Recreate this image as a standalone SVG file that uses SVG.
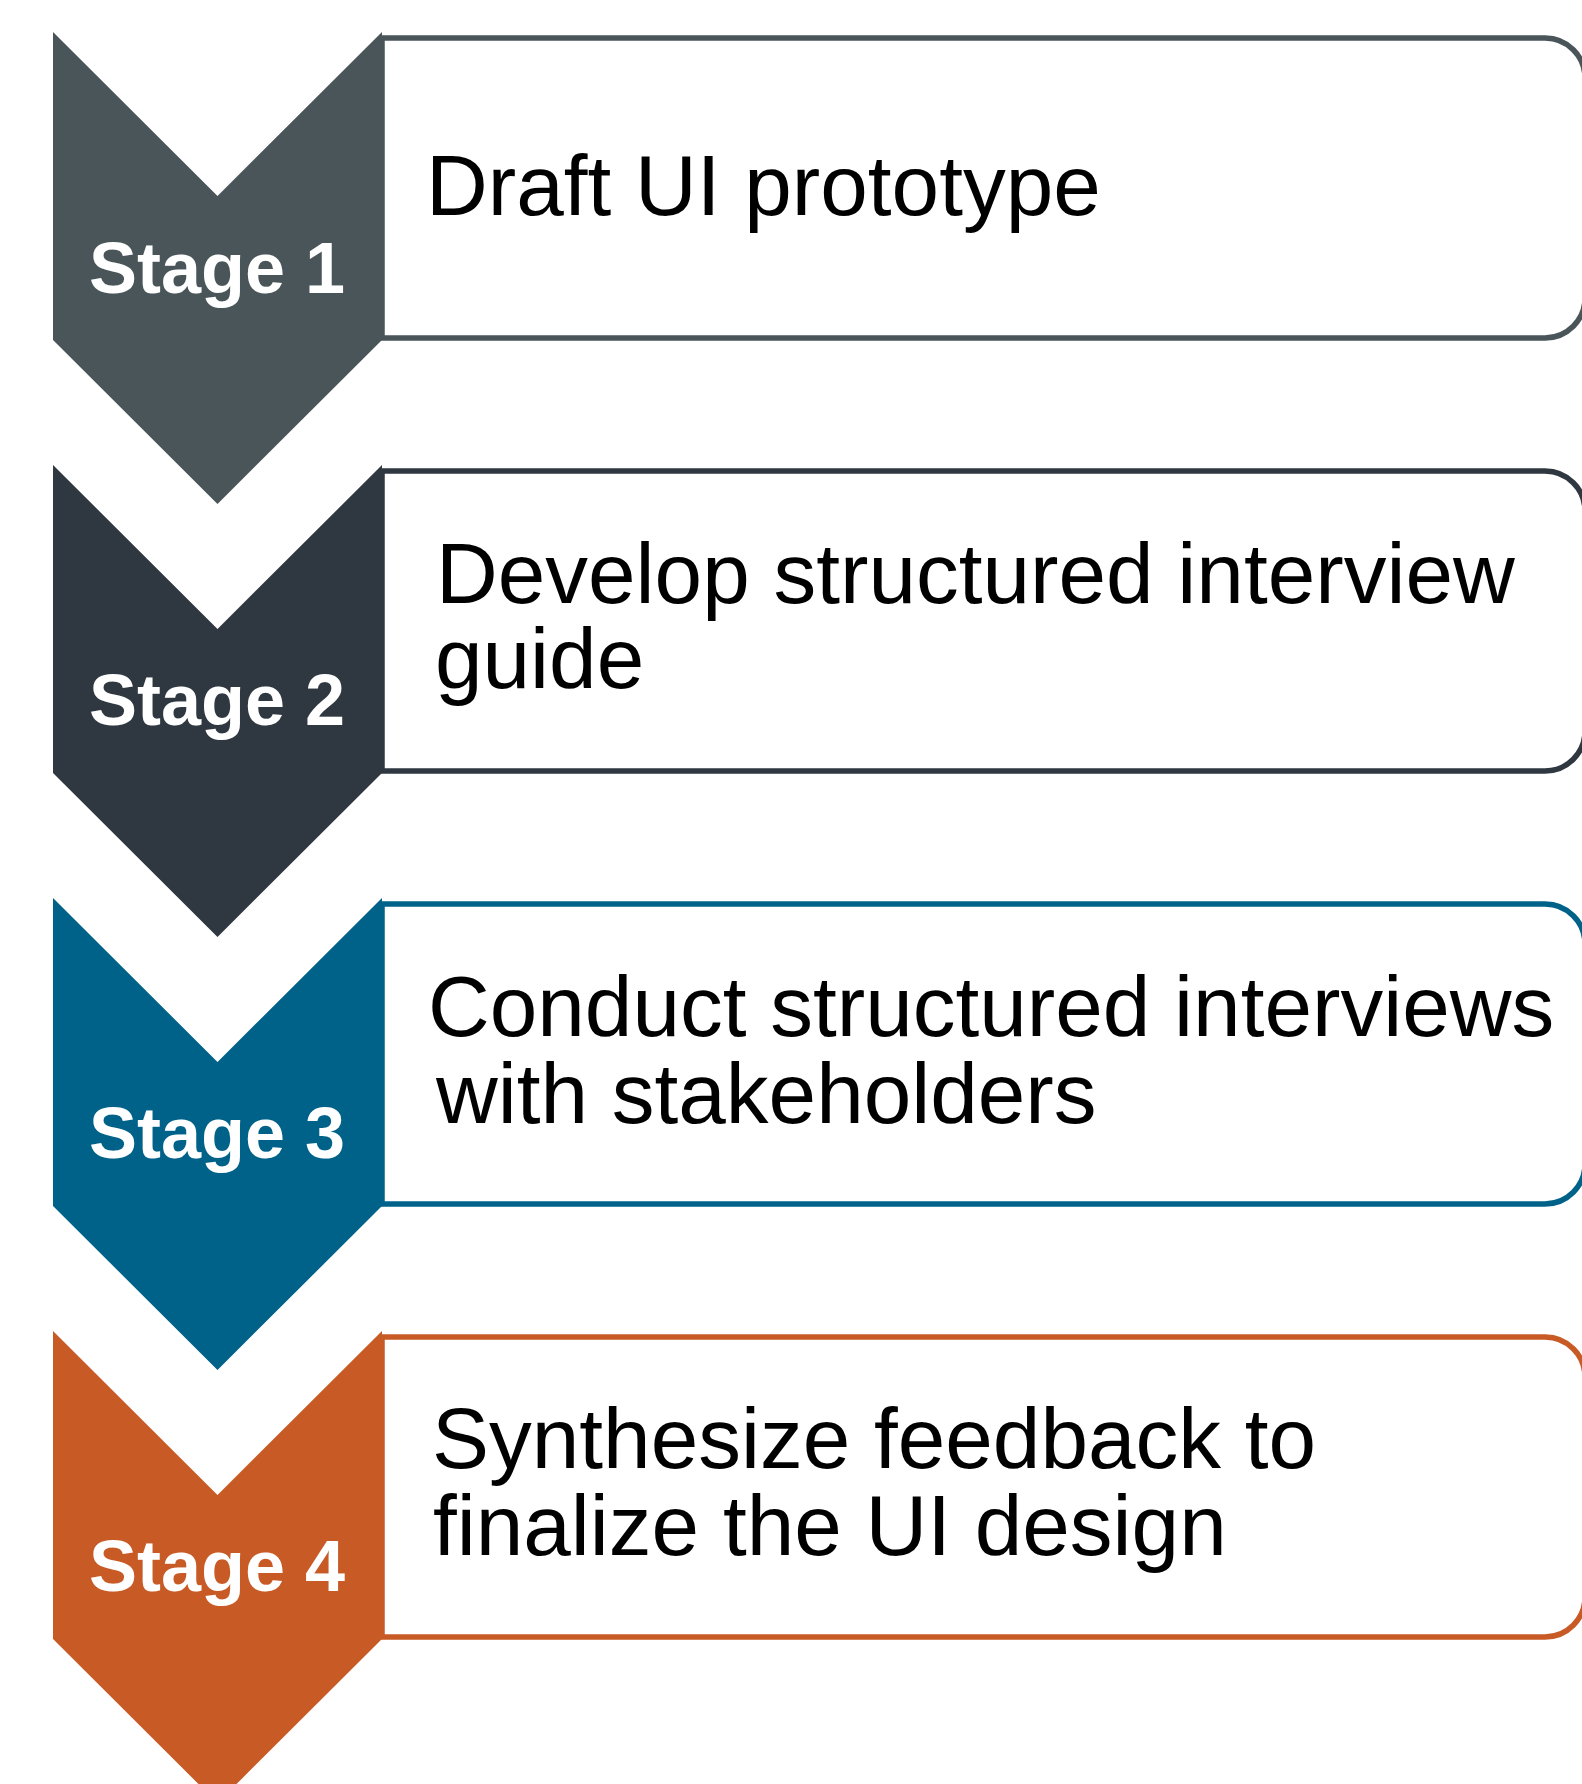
<svg xmlns="http://www.w3.org/2000/svg" width="1582" height="1784" viewBox="0 0 1582 1784">
  <style>
    .box { fill: #ffffff; stroke-width: 5.5; }
    .stage { font-family: "Liberation Sans", Arial, sans-serif; font-weight: bold; font-size: 72px; fill: #ffffff; text-anchor: middle; }
    .body { font-family: "Liberation Sans", Arial, sans-serif; font-size: 85.5px; fill: #000000; }
    .c1 { fill: #4a5559; } .b1 { stroke: #4a5559; }
    .c2 { fill: #2f3740; } .b2 { stroke: #2f3740; }
    .c3 { fill: #016289; } .b3 { stroke: #016289; }
    .c4 { fill: #c85b25; } .b4 { stroke: #c85b25; }
  </style>
  <defs>
    <!-- downward chevron: 329 wide, notch and point 164 deep -->
    <path id="chev" d="M0 0 L164.5 164 L329 0 L329 308 L164.5 472 L0 308 Z"/>
    <!-- text panel: square on the left (behind the chevron), rounded on the right -->
    <path id="panel" d="M0 0 H1163 A40 40 0 0 1 1203 40 V260 A40 40 0 0 1 1163 300 H0 Z"/>
  </defs>
  <rect width="1582" height="1784" fill="#ffffff"/>

  <g id="connectors"/>

  <g id="stage1">
    <use href="#panel" x="382" y="38" class="box b1"/>
    <use href="#chev" x="53" y="32" class="c1"/>
    <text class="stage" x="217" y="293">Stage 1</text>
    <text class="body" x="426" y="215">Draft UI prototype</text>
  </g>

  <g id="stage2">
    <use href="#panel" x="382" y="471" class="box b2"/>
    <use href="#chev" x="53" y="465" class="c2"/>
    <text class="stage" x="217" y="725">Stage 2</text>
    <text class="body"><tspan x="436" y="603">Develop structured interview</tspan><tspan x="435" y="688">guide</tspan></text>
  </g>

  <g id="stage3">
    <use href="#panel" x="382" y="904" class="box b3"/>
    <use href="#chev" x="53" y="898" class="c3"/>
    <text class="stage" x="217" y="1158">Stage 3</text>
    <text class="body"><tspan x="428" y="1036">Conduct structured interviews</tspan><tspan x="436" y="1123">with stakeholders</tspan></text>
  </g>

  <g id="stage4">
    <use href="#panel" x="382" y="1337" class="box b4"/>
    <use href="#chev" x="53" y="1331" class="c4"/>
    <text class="stage" x="217" y="1591">Stage 4</text>
    <text class="body"><tspan x="432" y="1468">Synthesize feedback to</tspan><tspan x="433" y="1555">finalize the UI design</tspan></text>
  </g>
</svg>
